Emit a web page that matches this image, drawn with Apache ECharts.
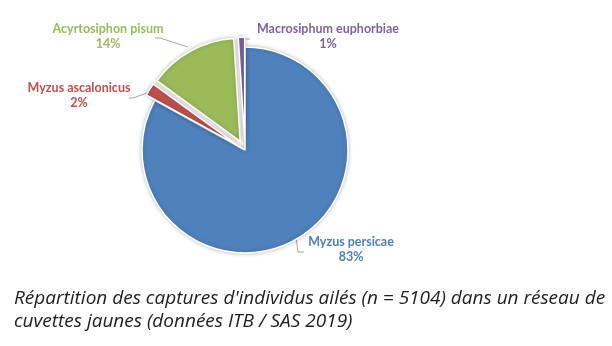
<!DOCTYPE html>
<html>
<head>
<meta charset="utf-8">
<script src="https://cdn.jsdelivr.net/npm/echarts@6/dist/echarts.min.js"></script>
<style>
html,body{margin:0;padding:0;background:#fff;}
#c{width:612px;height:346px;}
</style>
</head>
<body>
<div id="c"></div>
<script>
const categories = ['Myzus persicae', 'Myzus ascalonicus', 'Acyrtosiphon pisum', 'Macrosiphum euphorbiae'];
const percentages = [83, 2, 14, 1];
const exploded = [false, true, true, true];
const colors = ['#4F81BD', '#C0504D', '#9BBB59', '#8064A2'];
const captionLines = [
  "Répartition des captures d'individus ailés (n = 5104) dans un réseau de",
  "cuvettes jaunes (données ITB / SAS 2019)"
];

// label placement (layout only)
const labelPos = [
  {x: 351, y: 249, line: [[296, 237], [298, 252], [304, 252]]},
  {x: 79,  y: 95,  line: [[147, 93], [133, 98], [129, 98]]},
  {x: 108, y: 36,  line: [[188, 47], [160, 38], [155, 38]]},
  {x: 328, y: 36,  line: [[238, 41], [246, 39], [250, 39]]}
];

const pieBase = {
  type: 'pie',
  center: [245, 150],
  radius: 103,
  startAngle: 90,
  clockwise: true,
  emphasis: {disabled: true},
  avoidLabelOverlap: false
};

const chart = echarts.init(document.getElementById('c'), null, {renderer: 'canvas'});
chart.setOption({
  animation: false,
  title: {
    text: captionLines.join('\n'),
    left: 14,
    top: 287,
    padding: 0,
    textStyle: {
      fontFamily: 'Open Sans',
      fontStyle: 'italic',
      fontWeight: 'normal',
      fontSize: 19,
      lineHeight: 23,
      color: '#222222'
    }
  },
  series: [
    Object.assign({}, pieBase, {
      name: 'slices',
      selectedMode: 'multiple',
      selectedOffset: 10,
      itemStyle: {
        borderColor: '#ffffff',
        borderWidth: 1.5,
        shadowBlur: 4,
        shadowColor: 'rgba(0,0,0,0.25)'
      },
      label: {show: false},
      labelLine: {show: false},
      data: categories.map((name, i) => ({
        name: name,
        value: percentages[i],
        selected: exploded[i],
        itemStyle: {color: colors[i]}
      }))
    }),
    Object.assign({}, pieBase, {
      name: 'labels',
      silent: true,
      itemStyle: {color: 'rgba(0,0,0,0)', borderWidth: 0},
      label: {
        show: true,
        formatter: p => p.name + '\n' + p.value + '%',
        fontFamily: 'Lato',
        fontWeight: 'bold',
        fontSize: 12.5,
        lineHeight: 15,
        align: 'center'
      },
      labelLine: {
        show: true,
        lineStyle: {color: '#A6A6A6', width: 1}
      },
      labelLayout: function (params) {
        const lp = labelPos[params.dataIndex];
        return {
          x: lp.x,
          y: lp.y,
          align: 'center',
          verticalAlign: 'middle',
          labelLinePoints: lp.line
        };
      },
      data: categories.map((name, i) => ({
        name: name,
        value: percentages[i],
        label: {color: colors[i]}
      }))
    })
  ]
});
</script>
</body>
</html>
